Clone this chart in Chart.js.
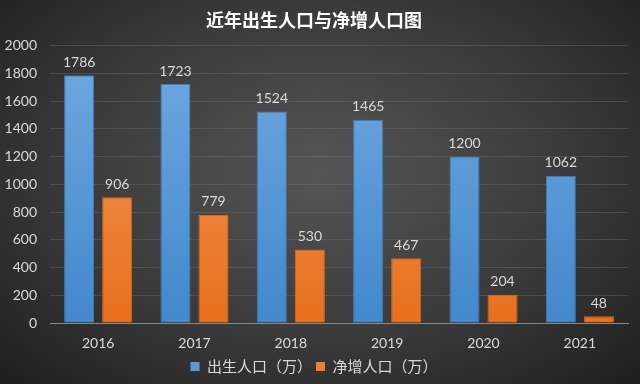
<!DOCTYPE html>
<html>
<head>
<meta charset="utf-8">
<script src="https://cdn.jsdelivr.net/npm/chart.js@4"></script>
<style>
  html, body { margin: 0; padding: 0; }
  #wrap {
    width: 640px; height: 384px;
    background: radial-gradient(ellipse at 50% 45%, #555555 0%, #3a3a3a 55%, #1e1e1e 100%);
  }
</style>
</head>
<body>
<div id="wrap"><canvas id="c" width="640" height="384"></canvas></div>
<script>
const years = ['2016', '2017', '2018', '2019', '2020', '2021'];
const births = [1786, 1723, 1524, 1465, 1200, 1062];
const netGrowth = [906, 779, 530, 467, 204, 48];
const yTicks = [0, 200, 400, 600, 800, 1000, 1200, 1400, 1600, 1800, 2000];

const baseFont = "Lato, 'Noto Sans CJK SC', sans-serif";

function barGradient(ctx, top, bottom) {
  const area = ctx.chart.chartArea;
  if (!area) return bottom;
  const g = ctx.chart.ctx.createLinearGradient(0, area.top, 0, area.bottom);
  g.addColorStop(0, top);
  g.addColorStop(1, bottom);
  return g;
}

const valueLabels = {
  id: 'valueLabels',
  afterDatasetsDraw(chart) {
    const c = chart.ctx;
    c.save();
    c.font = '14px ' + baseFont;
    c.fillStyle = '#d9d9d9';
    c.textAlign = 'center';
    c.textBaseline = 'bottom';
    chart.data.datasets.forEach((ds, i) => {
      chart.getDatasetMeta(i).data.forEach((bar, j) => {
        c.fillText(ds.data[j], bar.x, bar.y - 6);
      });
    });
    c.restore();
  }
};

new Chart(document.getElementById('c'), {
  type: 'bar',
  data: {
    labels: years,
    datasets: [
      {
        label: '出生人口（万）',
        data: births,
        backgroundColor: (ctx) => barGradient(ctx, '#70a9e0', '#4288cc'),
        borderColor: '#3b7fc0',
        borderWidth: 1,
        categoryPercentage: 0.79,
        barPercentage: 0.79,
      },
      {
        label: '净增人口（万）',
        data: netGrowth,
        backgroundColor: (ctx) => barGradient(ctx, '#f39a5c', '#e8701c'),
        borderColor: '#d9681c',
        borderWidth: 1,
        categoryPercentage: 0.79,
        barPercentage: 0.79,
      },
    ],
  },
  options: {
    responsive: false,
    animation: false,
    layout: { padding: { left: 0, right: 12, top: 0, bottom: 0 } },
    plugins: {
      title: {
        display: true,
        text: '近年出生人口与净增人口图',
        color: '#ffffff',
        font: { size: 18, weight: 'bold', family: "'Noto Sans CJK SC', sans-serif" },
        padding: { top: 9, bottom: 15 },
      },
      legend: {
        position: 'bottom',
        labels: {
          color: '#d9d9d9',
          font: { size: 15, family: "'Noto Sans CJK SC', sans-serif" },
          boxWidth: 9,
          boxHeight: 9,
          padding: 4,
          generateLabels(chart) {
            return chart.data.datasets.map((ds, i) => ({
              text: ds.label,
              fillStyle: i === 0 ? '#5b9bd5' : '#ed7d31',
              strokeStyle: i === 0 ? '#5b9bd5' : '#ed7d31',
              lineWidth: 0,
              fontColor: '#d9d9d9',
              datasetIndex: i,
            }));
          },
        },
      },
      tooltip: { enabled: false },
    },
    scales: {
      x: {
        afterFit(axis) { axis.height = 32; },
        grid: { display: false, drawTicks: false },
        border: { color: '#8a8a8a', width: 1 },
        ticks: { color: '#d9d9d9', font: { size: 14, family: baseFont }, padding: 12 },
      },
      y: {
        min: 0,
        max: 2000,
        afterBuildTicks(axis) { axis.ticks = yTicks.map(v => ({ value: v })); },
        afterFit(axis) { axis.width = 50; },
        grid: { color: 'rgba(120,120,120,0.35)', drawTicks: false },
        border: { display: false },
        ticks: {
          color: '#d9d9d9',
          font: { size: 14, family: baseFont },
          padding: 13,
          callback: (v) => String(v),
        },
      },
    },
  },
  plugins: [valueLabels],
});
</script>
</body>
</html>
